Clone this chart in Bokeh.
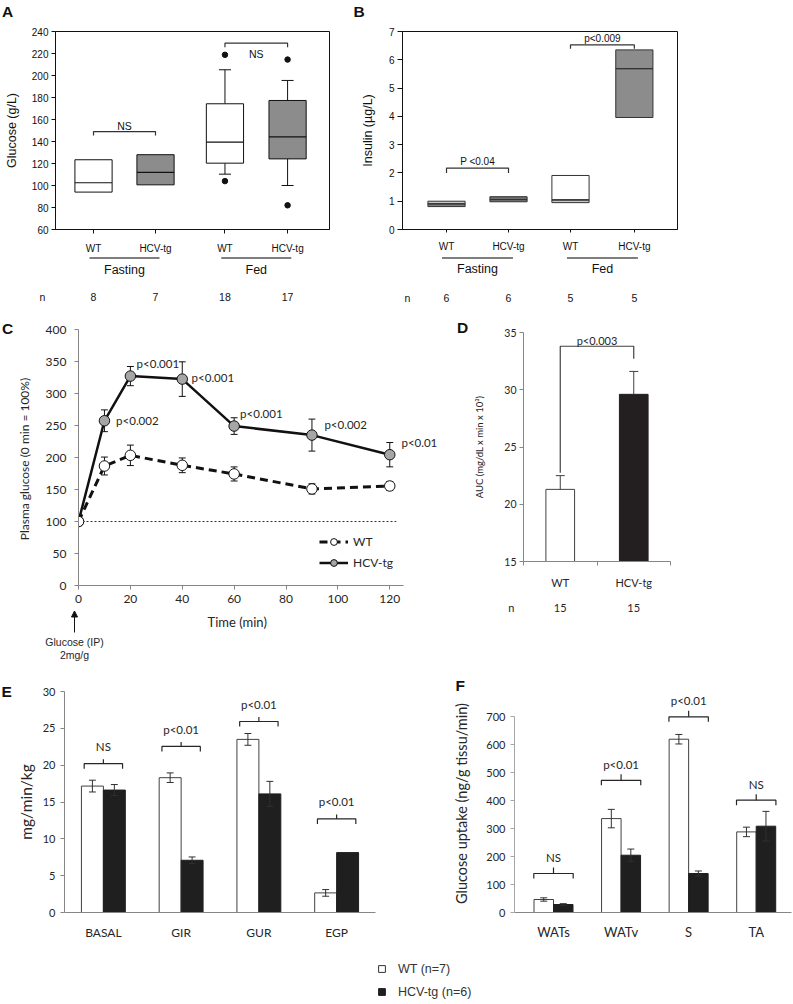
from bokeh.plotting import figure
from bokeh.layouts import column, row
from bokeh.models import (FixedTicker, Legend, LegendItem, Range1d, Arrow, NormalHead)
from bokeh.core.properties import value
from bokeh.embed import file_html
from bokeh.resources import INLINE

ARIAL = "Liberation Sans"
CAL = "Lato"
BLACK = "#111111"
TXT = "#262626"
AXG = "#868686"

# ================= DATA =================
# Panel A: glucose box plots (g/L)
a_labels = ["WT", "HCV-tg", "WT", "HCV-tg"]
a_x = [1.0, 2.0, 3.12, 4.13]
a_q1 = [94.0, 100.6, 120.3, 124.2]
a_med = [102.5, 112.0, 139.4, 144.2]
a_q3 = [123.4, 128.0, 174.3, 177.3]
a_whisk_lo = [None, None, 110.3, 100.0]
a_whisk_hi = [None, None, 205.2, 195.5]
a_out_group = [2, 2, 3, 3]
a_out_val = [218.8, 104.0, 214.5, 82.0]
a_n = ["8", "7", "18", "17"]
a_groups = ["Fasting", "Fed"]
a_sig = ["NS", "NS"]
a_bracket = [149.0, 229.4]
a_fill = ["white", "#8c8c8c", "white", "#8c8c8c"]

# Panel B: insulin box plots (ug/L)
b_labels = ["WT", "HCV-tg", "WT", "HCV-tg"]
b_x = [1.0, 2.0, 3.0, 4.03]
b_q1 = [0.81, 0.98, 0.95, 3.96]
b_med = [0.91, 1.06, 1.05, 5.69]
b_q3 = [1.00, 1.16, 1.91, 6.35]
b_n = ["6", "6", "5", "5"]
b_sig = ["P <0.04", "p<0.009"]
b_bracket = [2.17, 6.53]
b_upper_fill = ["#c8c8c8", "#6e6e6e", "white", "#8c8c8c"]
b_lower_fill = ["#7d7d7d", "#6e6e6e", "#c8c8c8", "#8c8c8c"]

# Panel C: glucose tolerance test (% of 0 min)
c_time = [0, 10, 20, 40, 60, 90, 120]
c_wt = [100, 186.7, 203.4, 187.8, 174.3, 150.9, 155.5]
c_wt_err = [0, 14, 16, 11.5, 11, 8, 7]
c_hcv = [100, 257.4, 327.2, 322.5, 249.1, 235.0, 204.4]
c_hcv_err = [0, 17, 15, 27, 13, 25, 19]
c_pval = ["", "p<0.002", "p<0.001", "p<0.001", "p<0.001", "p<0.002", "p<0.01"]

# Panel D: AUC
d_groups = ["WT", "HCV-tg"]
d_auc = [21.3, 29.6]
d_err = [1.2, 2.0]
d_n = ["15", "15"]

# Panel E: clamp (mg/min/kg)
e_cats = ["BASAL", "GIR", "GUR", "EGP"]
e_wt = [17.16, 18.3, 23.5, 2.66]
e_wt_err = [0.8, 0.65, 0.8, 0.45]
e_hcv = [16.62, 7.09, 16.1, 8.13]
e_hcv_err = [0.75, 0.45, 1.7, 0.0]
e_sig = ["NS", "p<0.01", "p<0.01", "p<0.01"]
e_bracket = [20.2, 22.55, 25.93, 12.7]

# Panel F: glucose uptake (ng/g tissu/min)
f_cats = ["WATs", "WATv", "S", "TA"]
f_wt = [46.5, 336.0, 620.0, 288.4]
f_wt_err = [6, 33, 17, 17]
f_hcv = [28.6, 205.0, 139.5, 308.8]
f_hcv_err = [3, 22, 9, 53]
f_sig = ["NS", "p<0.01", "p<0.01", "NS"]
f_bracket = [139.5, 473.0, 700.0, 401.8]


# ================= HELPERS =================
class Geo:
    """Figure placement on the page and the frame's data ranges."""
    def __init__(s, left, top, w, h, L, R, T, B, xr, yr):
        s.left, s.top = left, top
        s.w, s.h, s.L, s.R, s.T, s.B, s.xr, s.yr = w, h, L, R, T, B, xr, yr
        s.fx0 = left + L
        s.fx1 = left + w - R
        s.fy0 = top + T
        s.fy1 = top + h - B

    def x(s, X):
        return s.xr[0] + (X - s.fx0) / (s.fx1 - s.fx0) * (s.xr[1] - s.xr[0])

    def y(s, Y):
        return s.yr[1] - (Y - s.fy0) / (s.fy1 - s.fy0) * (s.yr[1] - s.yr[0])

    def dx(s, px):
        return px / (s.fx1 - s.fx0) * (s.xr[1] - s.xr[0])

    def dy(s, px):
        return px / (s.fy1 - s.fy0) * (s.yr[1] - s.yr[0])


def make(g):
    p = figure(width=g.w, height=g.h, x_range=Range1d(*g.xr), y_range=Range1d(*g.yr),
               output_backend="svg", toolbar_location=None, frame_align=False,
               min_border_left=g.L, min_border_right=g.R,
               min_border_top=g.T, min_border_bottom=g.B)
    p.xgrid.visible = False
    p.ygrid.visible = False
    p.outline_line_color = None
    p.background_fill_color = "white"
    p.border_fill_color = "white"
    return p


def ann_fig(left, top, w, h, xr=None):
    """Axis-less strip: x in the given range (page px by default), y in page px."""
    if xr is None:
        xr = (left, left + w)
    p = figure(width=w, height=h, x_range=Range1d(*xr), y_range=Range1d(top + h, top),
               output_backend="svg", toolbar_location=None, frame_align=False,
               x_axis_location=None, y_axis_location=None,
               min_border_left=0, min_border_right=0, min_border_top=0, min_border_bottom=0)
    p.xgrid.visible = False
    p.ygrid.visible = False
    p.outline_line_color = None
    p.background_fill_color = "white"
    p.border_fill_color = "white"
    return p


def style_axis(ax, font, size, color, line_color, tick_out=4, standoff=3,
               label=None, label_size=None, label_standoff=5):
    ax.major_label_text_font = font
    ax.major_label_text_font_size = f"{size}px"
    ax.major_label_text_color = color
    ax.axis_line_color = line_color
    ax.major_tick_line_color = line_color
    ax.major_tick_out = tick_out
    ax.major_tick_in = 0
    ax.minor_tick_line_color = None
    ax.major_label_standoff = standoff
    if label:
        ax.axis_label = label
        ax.axis_label_text_font = font
        ax.axis_label_text_font_size = f"{label_size}px"
        ax.axis_label_text_font_style = "normal"
        ax.axis_label_text_color = color
        ax.axis_label_standoff = label_standoff


def txt(p, xs, ys, texts, size, font=ARIAL, color=BLACK, align="center",
        style="normal", baseline="middle"):
    p.text(x=xs, y=ys, text=texts, text_font=value(font), text_font_size=f"{size}px",
           text_color=color, text_align=align, text_baseline=baseline,
           text_font_style=style)


# ================= HEADER (letters A, B) =================
hdrAB = ann_fig(0, 0, 793, 18)
txt(hdrAB, [1.5, 353], [10.5, 10.5], ["A", "B"], 15.5, align="left", style="bold")

# ================= PANEL A =================
gA = Geo(0, 18, 355, 238, 55, 26, 13, 27, (0.387, 4.806), (60, 240))
pA = make(gA)
pA.outline_line_color = BLACK
pA.outline_line_width = 1
style_axis(pA.yaxis[0], ARIAL, 10, BLACK, BLACK, 4, 3, "Glucose (g/L)", 12.5, 10)
pA.yaxis[0].ticker = FixedTicker(ticks=list(range(60, 241, 20)))
style_axis(pA.xaxis[0], ARIAL, 10, BLACK, BLACK, 4, 9)
pA.xaxis[0].ticker = FixedTicker(ticks=a_x)
pA.xaxis[0].major_label_overrides = dict(zip(a_x, a_labels))

wi = [i for i in range(4) if a_whisk_hi[i] is not None]
cap = 0.097
pA.segment(x0=[a_x[i] for i in wi] * 2, x1=[a_x[i] for i in wi] * 2,
           y0=[a_q3[i] for i in wi] + [a_q1[i] for i in wi],
           y1=[a_whisk_hi[i] for i in wi] + [a_whisk_lo[i] for i in wi],
           line_color=BLACK, line_width=1)
pA.segment(x0=[a_x[i] - cap for i in wi] * 2, x1=[a_x[i] + cap for i in wi] * 2,
           y0=[a_whisk_hi[i] for i in wi] + [a_whisk_lo[i] for i in wi],
           y1=[a_whisk_hi[i] for i in wi] + [a_whisk_lo[i] for i in wi],
           line_color=BLACK, line_width=1)
pA.vbar(x=a_x, width=0.6, bottom=a_q1, top=a_q3, fill_color=a_fill,
        line_color=BLACK, line_width=1)
pA.segment(x0=[x - 0.3 for x in a_x], x1=[x + 0.3 for x in a_x], y0=a_med, y1=a_med,
           line_color=BLACK, line_width=1.2)
pA.scatter(x=[a_x[k] for k in a_out_group], y=a_out_val, size=5.5, color=BLACK)

a_pairs = [(0, 1), (2, 3)]
legA = gA.dy(4)
pA.multi_line(xs=[[a_x[i], a_x[i], a_x[j], a_x[j]] for i, j in a_pairs],
              ys=[[h - legA, h, h, h - legA] for h in a_bracket],
              line_color="#333333", line_width=1.2)
a_mid = [(a_x[i] + a_x[j]) / 2 for i, j in a_pairs]
a_sig_dy = [gA.dy(6), -gA.dy(11)]
txt(pA, a_mid, [h + d for h, d in zip(a_bracket, a_sig_dy)], a_sig, 10.5)

# below A: group lines, group names, n row
pAb = ann_fig(0, 256, 355, 48, xr=(gA.x(0), gA.x(355)))
halfA = gA.dx(35)
pAb.segment(x0=[m - halfA for m in a_mid], x1=[m + halfA for m in a_mid],
            y0=[257.5, 257.5], y1=[257.5, 257.5], line_color="#555555", line_width=1.3)
txt(pAb, a_mid, [269.5, 269.5], a_groups, 12.5)
txt(pAb, [gA.x(42)] + a_x, [296.5] * 5, ["n"] + a_n, 10.5)

# ================= PANEL B =================
gB = Geo(355, 18, 438, 238, 47, 116, 13, 27, (0.29, 4.726), (0, 7))
pB = make(gB)
pB.outline_line_color = BLACK
pB.outline_line_width = 1
style_axis(pB.yaxis[0], ARIAL, 10, BLACK, BLACK, 5, 3, "Insulin (\u00b5g/L)", 12.5, 11)
pB.yaxis[0].ticker = FixedTicker(ticks=list(range(0, 8)))
style_axis(pB.xaxis[0], ARIAL, 10, BLACK, BLACK, 3, 8)
pB.xaxis[0].ticker = FixedTicker(ticks=b_x)
pB.xaxis[0].major_label_overrides = dict(zip(b_x, b_labels))

pB.vbar(x=b_x, width=0.6, bottom=b_q1, top=b_med, fill_color=b_lower_fill,
        line_color="#333333", line_width=1)
pB.vbar(x=b_x, width=0.6, bottom=b_med, top=b_q3, fill_color=b_upper_fill,
        line_color="#333333", line_width=1)
pB.segment(x0=[x - 0.3 for x in b_x], x1=[x + 0.3 for x in b_x], y0=b_med, y1=b_med,
           line_color="#333333", line_width=1.2)
b_pairs = [(0, 1), (2, 3)]
b_leg = [gB.dy(5), gB.dy(4)]
pB.multi_line(xs=[[b_x[i], b_x[i], b_x[j], b_x[j]] for i, j in b_pairs],
              ys=[[h - l, h, h, h - l] for h, l in zip(b_bracket, b_leg)],
              line_color="#333333", line_width=1.2)
b_mid = [(b_x[i] + b_x[j]) / 2 for i, j in b_pairs]
txt(pB, b_mid, [h + gB.dy(6.5) for h in b_bracket], b_sig, 10)

pBb = ann_fig(355, 256, 438, 48, xr=(gB.x(355), gB.x(793)))
halfB = gB.dx(35.5)
pBb.segment(x0=[m - halfB for m in b_mid], x1=[m + halfB for m in b_mid],
            y0=[257.5, 257.5], y1=[257.5, 257.5], line_color="#555555", line_width=1.3)
txt(pBb, b_mid, [268.5, 268.5], a_groups, 12.5)
txt(pBb, [gB.x(407)] + b_x, [297] * 5, ["n"] + b_n, 10.5)

# ================= PANEL C =================
stripC = ann_fig(0, 304, 13, 361)
txt(stripC, [1.5], [327.5], ["C"], 15.5, align="left", style="bold")

gC = Geo(13, 304, 442, 305, 59, 8, 25, 24, (0, 142.26), (0, 400))
pC = make(gC)
style_axis(pC.yaxis[0], CAL, 12, TXT, AXG, 4, 8, "Plasma glucose (0 min  = 100%)", 12, 11)
pC.yaxis[0].ticker = FixedTicker(ticks=list(range(0, 401, 50)))
style_axis(pC.xaxis[0], CAL, 12, TXT, AXG, 4, 5)
pC.xaxis[0].ticker = FixedTicker(ticks=list(range(0, 121, 20)))
pC.xaxis[0].bounds = (0, 125.2)
pC.segment(x0=[0], x1=[122.5], y0=[100], y1=[100], line_color="#333333",
           line_dash="2 2", line_width=1)
ccap = gC.dx(3.5)
for vals, errs in ((c_hcv, c_hcv_err), (c_wt, c_wt_err)):
    idx = [i for i in range(len(c_time)) if errs[i] > 0]
    tt = [c_time[i] for i in idx]
    lo = [vals[i] - errs[i] for i in idx]
    hi = [vals[i] + errs[i] for i in idx]
    pC.segment(x0=tt, x1=tt, y0=lo, y1=hi, line_color=BLACK, line_width=1)
    pC.segment(x0=[t - ccap for t in tt] * 2, x1=[t + ccap for t in tt] * 2,
               y0=lo + hi, y1=lo + hi, line_color=BLACK, line_width=1)
hcv_line = pC.line(c_time, c_hcv, line_color=BLACK, line_width=2.5)
wt_line = pC.line(c_time, c_wt, line_color=BLACK, line_width=3, line_dash="8 5")
hcv_pts = pC.scatter(c_time, c_hcv, size=10.5, fill_color="#a6a6a6",
                     line_color=BLACK, line_width=1)
wt_pts = pC.scatter(c_time, c_wt, size=10.5, fill_color="white",
                    line_color=BLACK, line_width=1)
c_p_off = [(0, 0), (4.5, 1), (2.4, 20), (3.6, 2.5), (2.3, 20), (4.8, 17), (4.5, 19)]
pi = [i for i in range(len(c_time)) if c_pval[i]]
txt(pC, [c_time[i] + c_p_off[i][0] for i in pi], [c_hcv[i] + c_p_off[i][1] for i in pi],
    [c_pval[i] for i in pi], 11.5, font=CAL, color=TXT, align="left")
legC = Legend(items=[LegendItem(label="WT", renderers=[wt_line, wt_pts]),
                     LegendItem(label="HCV-tg", renderers=[hcv_line, hcv_pts])],
              location=(241, 14), glyph_width=29, glyph_height=17, label_height=17,
              spacing=4, padding=0, margin=0, label_standoff=5,
              border_line_color=None, background_fill_alpha=0,
              label_text_font=CAL, label_text_font_size="12px", label_text_color=TXT)
pC.add_layout(legC)

pCb = ann_fig(13, 609, 442, 56, xr=(gC.x(13), gC.x(455)))
txt(pCb, [gC.x(236.7)], [621.7], ["Time (min)"], 13, font=CAL, color=TXT)
pCb.add_layout(Arrow(x_start=gC.x(74), x_end=gC.x(74), y_start=632, y_end=610.5,
                     line_color=BLACK, line_width=1,
                     end=NormalHead(size=6, fill_color=BLACK, line_color=BLACK)))
txt(pCb, [gC.x(74), gC.x(74)], [641.7, 654.3], ["Glucose (IP)", "2mg/g"], 10.5, color=TXT)

# ================= PANEL D =================
stripD = ann_fig(455, 304, 14, 361)
txt(stripD, [456.5], [326.5], ["D"], 15.5, align="left", style="bold")

gD = Geo(469, 304, 324, 287, 54, 123, 28, 26, (0, 2), (15, 35))
pD = make(gD)
style_axis(pD.yaxis[0], CAL, 10.5, TXT, AXG, 4, 3,
           "AUC (mg/dL x min x 10\u00b3)", 9.5, 16)
pD.yaxis[0].ticker = FixedTicker(ticks=[15, 20, 25, 30, 35])
d_x = [0.5, 1.5]
style_axis(pD.xaxis[0], CAL, 11, TXT, AXG, 0, 10)
pD.xaxis[0].ticker = FixedTicker(ticks=d_x, minor_ticks=[0, 1, 2])
pD.xaxis[0].major_label_overrides = dict(zip(d_x, d_groups))
pD.xaxis[0].minor_tick_line_color = AXG
pD.xaxis[0].minor_tick_out = 4
pD.xaxis[0].minor_tick_in = 0
pD.vbar(x=d_x, width=0.39, bottom=15, top=d_auc, fill_color=["white", "#231f20"],
        line_color=["#404040", "#231f20"], line_width=1)
d_top = [v + e for v, e in zip(d_auc, d_err)]
dcap = gD.dx(4.5)
pD.segment(x0=d_x, x1=d_x, y0=d_auc, y1=d_top, line_color="#404040", line_width=1)
pD.segment(x0=[x - dcap for x in d_x], x1=[x + dcap for x in d_x], y0=d_top, y1=d_top,
           line_color="#404040", line_width=1)
d_br = 33.8
d_leg_bottom = [d_top[0] + gD.dy(3), d_top[1] + gD.dy(13)]
pD.line(x=[d_x[0], d_x[0], d_x[1], d_x[1]], y=[d_leg_bottom[0], d_br, d_br, d_leg_bottom[1]],
        line_color="#404040", line_width=1.2)
txt(pD, [1.0], [d_br + gD.dy(6)], ["p<0.003"], 11, font=CAL, color=TXT)

pDb = ann_fig(469, 591, 324, 74, xr=(gD.x(469), gD.x(793)))
txt(pDb, [gD.x(510.7)] + d_x, [607.3] * 3, ["n"] + d_n, 11, font=CAL, color=TXT)

# ================= PANEL E =================
stripE = ann_fig(0, 665, 13, 283)
txt(stripE, [1.0], [690.5], ["E"], 15.5, align="left", style="bold")

gE = Geo(13, 665, 427, 283, 46, 65, 26, 36, (0, 4), (0, 30))
pE = make(gE)
style_axis(pE.yaxis[0], CAL, 11, TXT, AXG, 4, 5, "mg/min/kg", 15.5, 5)
pE.yaxis[0].ticker = FixedTicker(ticks=[0, 5, 10, 15, 20, 25, 30])
e_c = [i + 0.5 for i in range(len(e_cats))]
style_axis(pE.xaxis[0], CAL, 12, TXT, AXG, 0, 12)
pE.xaxis[0].ticker = FixedTicker(ticks=e_c)
pE.xaxis[0].major_label_overrides = dict(zip(e_c, e_cats))


def grouped(p, centers, wt, wt_err, hcv, hcv_err, bw, capw):
    xw = [c - bw / 2 for c in centers]
    xh = [c + bw / 2 for c in centers]
    p.vbar(x=xw, width=bw, bottom=0, top=wt, fill_color="white",
           line_color="#404040", line_width=1)
    p.vbar(x=xh, width=bw, bottom=0, top=hcv, fill_color="#1f1f1f",
           line_color="#1f1f1f", line_width=1)
    for xs, vals, errs in ((xw, wt, wt_err), (xh, hcv, hcv_err)):
        idx = [i for i in range(len(xs)) if errs[i] > 0]
        xx = [xs[i] for i in idx]
        lo = [vals[i] - errs[i] for i in idx]
        hi = [vals[i] + errs[i] for i in idx]
        p.segment(x0=xx, x1=xx, y0=lo, y1=hi, line_color="#303030", line_width=1)
        p.segment(x0=[x - capw for x in xx] * 2, x1=[x + capw for x in xx] * 2,
                  y0=lo + hi, y1=lo + hi, line_color="#303030", line_width=1)


def braces(p, centers, heights, half, drop, tick, sig, text_dy, size):
    xs, ys = [], []
    for c, h in zip(centers, heights):
        xs.append([c - half, c - half, c + half, c + half])
        ys.append([h - drop, h, h, h - drop])
        xs.append([c, c])
        ys.append([h, h + tick])
    p.multi_line(xs=xs, ys=ys, line_color="#262626", line_width=1.2)
    txt(p, centers, [h + text_dy for h in heights], sig, size, font=CAL, color=TXT)


grouped(pE, e_c, e_wt, e_wt_err, e_hcv, e_hcv_err, gE.dx(22.3), gE.dx(3.5))
braces(pE, e_c, e_bracket, gE.dx(19.5), gE.dy(5), gE.dy(4.5), e_sig, gE.dy(17), 11.5)

# ================= PANEL F =================
hdrF = ann_fig(440, 665, 353, 29)
txt(hdrF, [455], [684.5], ["F"], 15.5, align="left", style="bold")

gF = Geo(440, 694, 353, 254, 74, 2, 0, 36, (-0.0772, 4.0223), (0, 780))
pF = make(gF)
style_axis(pF.yaxis[0], CAL, 11, TXT, "#a6a6a6", 4, 5,
           "Glucose uptake (ng/g tissu/min)", 14.5, 13)
pF.yaxis[0].ticker = FixedTicker(ticks=list(range(0, 701, 100)))
pF.yaxis[0].bounds = (0, 700)
f_c = [i + 0.5 for i in range(len(f_cats))]
style_axis(pF.xaxis[0], CAL, 13, TXT, AXG, 0, 11)
pF.xaxis[0].ticker = FixedTicker(ticks=f_c)
pF.xaxis[0].major_label_overrides = dict(zip(f_c, f_cats))
grouped(pF, f_c, f_wt, f_wt_err, f_hcv, f_hcv_err, gF.dx(19.5), gF.dx(3.5))
braces(pF, f_c, f_bracket, gF.dx(19.7), gF.dy(5), gF.dy(6), f_sig, gF.dy(16), 11.5)

# ================= LEGEND ROW =================
pL = figure(width=793, height=54, x_range=Range1d(0, 1), y_range=Range1d(0, 1),
            output_backend="svg", toolbar_location=None, frame_align=False,
            x_axis_location=None, y_axis_location=None,
            min_border_left=0, min_border_right=0, min_border_top=0, min_border_bottom=0)
pL.xgrid.visible = False
pL.ygrid.visible = False
pL.outline_line_color = None
# legend keys (their single point lies outside the visible range)
r_wt = pL.scatter(x=[5], y=[5], marker="square", fill_color="white",
                  line_color="#333333", line_width=1)
r_hcv = pL.scatter(x=[5], y=[5], marker="square", fill_color="#1f1f1f",
                   line_color="#1f1f1f", line_width=1)
legL = Legend(items=[LegendItem(label="WT (n=7)", renderers=[r_wt]),
                     LegendItem(label="HCV-tg (n=6)", renderers=[r_hcv])],
              location=(373, 2), glyph_width=17, glyph_height=17, label_height=17,
              spacing=6, padding=0, margin=0, label_standoff=8,
              border_line_color=None, background_fill_alpha=0,
              label_text_font=ARIAL, label_text_font_size="12.5px",
              label_text_color="#333333")
pL.add_layout(legL)

layout = column(
    hdrAB,
    row(column(pA, pAb), column(pB, pBb)),
    row(stripC, column(pC, pCb), stripD, column(pD, pDb)),
    row(stripE, pE, column(hdrF, pF)),
    pL,
)
open("out.html", "w").write(file_html(layout, INLINE))
